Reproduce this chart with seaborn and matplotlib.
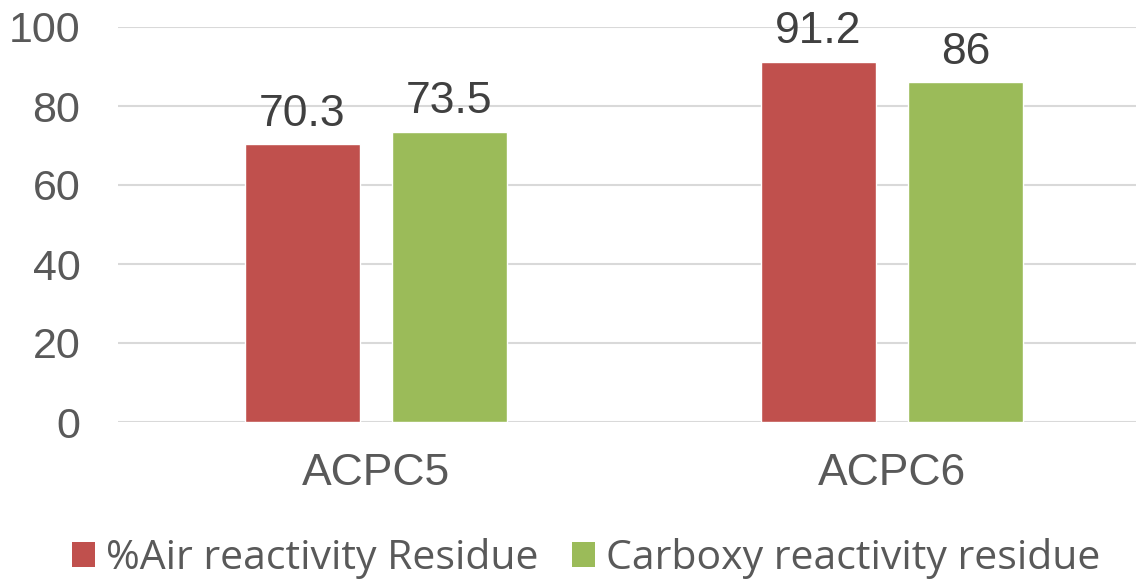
import matplotlib
matplotlib.use("Agg")
import matplotlib.pyplot as plt
import seaborn as sns
import pandas as pd
from matplotlib.patches import Patch

categories = ["ACPC5", "ACPC6"]
series_names = ["%Air reactivity Residue", "Carboxy reactivity residue"]
air_values = [70.3, 91.2]
carboxy_values = [73.5, 86]
yticks = [0, 20, 40, 60, 80, 100]
colors = ["#C0504D", "#9BBB59"]

df = pd.DataFrame({
    "category": categories * 2,
    "series": [series_names[0]] * 2 + [series_names[1]] * 2,
    "value": air_values + carboxy_values,
})

sns.set_style("white")
plt.rcParams["font.family"] = ["Liberation Sans", "DejaVu Sans"]

fig = plt.figure(figsize=(11.36, 5.8), dpi=100)
ax = fig.add_axes([118 / 1136, 158 / 580, 1 - 118 / 1136, 395 / 580])

sns.barplot(data=df, x="category", y="value", hue="series", palette=colors,
            width=0.57, gap=0.217, ax=ax, legend=False, saturation=1)

ax.set_ylim(0, 100)
ax.set_xlim(-0.5, 1.473)
ax.set_yticks(yticks)
ax.set_yticklabels([str(t) for t in yticks])
ax.yaxis.grid(True, color="#D9D9D9", linewidth=1.5)
ax.set_axisbelow(True)
for s in ax.spines.values():
    s.set_visible(False)
ax.set_xlabel("")
ax.set_ylabel("")
ax.tick_params(axis="y", length=0, pad=27, labelsize=31, labelcolor="#595959")
ax.tick_params(axis="x", length=0, pad=22, labelsize=32, labelcolor="#595959")

for cont in ax.containers:
    ax.bar_label(cont, labels=[f"{v:g}" for v in cont.datavalues],
                 padding=7, fontsize=32, color="#404040")

handles = [Patch(facecolor=c, edgecolor="none") for c in colors]
leg = fig.legend(handles, series_names, loc="lower center", bbox_to_anchor=(0.516, -0.062),
                 ncol=2, frameon=False, handlelength=0.58, handleheight=0.58,
                 handletextpad=0.27, columnspacing=0.8,
                 prop={"family": "Open Sans", "size": 29.5})
for t in leg.get_texts():
    t.set_color("#595959")

fig.savefig("out.png", dpi=100)
